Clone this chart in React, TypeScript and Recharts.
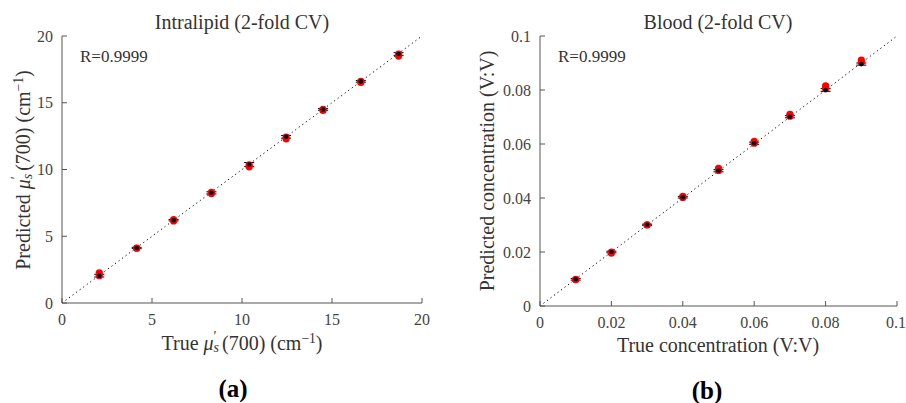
import * as React from "react";
import {
  ScatterChart,
  Scatter,
  XAxis,
  YAxis,
  ReferenceLine,
  ErrorBar,
} from "recharts";

// Panel (a): Intralipid, reduced scattering at 700 nm (cm^-1)
const lipidTrue = [2.07, 4.15, 6.2, 8.3, 10.4, 12.45, 14.5, 16.6, 18.7];
const lipidFoldA = [2.25, 4.12, 6.25, 8.2, 10.2, 12.3, 14.42, 16.52, 18.5];
const lipidFoldB = [2.05, 4.1, 6.15, 8.28, 10.35, 12.42, 14.5, 16.6, 18.65];
const lipidMean = [2.05, 4.12, 6.2, 8.25, 10.37, 12.45, 14.5, 16.6, 18.65];
const lipidErr = [0.1, 0.05, 0.05, 0.08, 0.15, 0.1, 0.06, 0.06, 0.1];
const lipidTicks = [0, 5, 10, 15, 20];

// Panel (b): Blood concentration (V:V)
const bloodTrue = [0.01, 0.02, 0.03, 0.04, 0.05, 0.06, 0.07, 0.08, 0.09];
const bloodFoldA = [0.0097, 0.0196, 0.0301, 0.0406, 0.051, 0.061, 0.071, 0.0815, 0.0911];
const bloodFoldB = [0.0099, 0.02, 0.03, 0.0402, 0.0502, 0.0603, 0.0703, 0.0805, 0.0903];
const bloodMean = [0.0099, 0.02, 0.0301, 0.0403, 0.0501, 0.0603, 0.0701, 0.08, 0.0896];
const bloodErr = [0.0003, 0.0003, 0.0002, 0.0003, 0.0004, 0.0004, 0.0004, 0.0005, 0.0004];
const bloodTicks = [0, 0.02, 0.04, 0.06, 0.08, 0.1];

const FONT = '"Liberation Serif", "Times New Roman", serif';
const AXIS = "#555";
const TEXT = "#333";

const toPts = (xs: number[], ys: number[], err?: number[]) =>
  xs.map((x, i) => ({ x, y: ys[i], err: err ? err[i] : 0 }));

const redDot = (p: any) => <circle cx={p.cx} cy={p.cy} r={3.6} fill="#ff0000" />;
const blackDot = (p: any) => <circle cx={p.cx} cy={p.cy} r={2.3} fill="#000" />;

const tickStyle = { fontFamily: FONT, fontSize: 16, fill: "#444" };

function Panel(props: {
  width: number;
  yAxisWidth: number;
  right: number;
  bottom: number;
  max: number;
  ticks: number[];
  xs: number[];
  foldA: number[];
  foldB: number[];
  mean: number[];
  err: number[];
}) {
  const { width, yAxisWidth, right, bottom, max, ticks, xs } = props;
  return (
    <ScatterChart
      width={width}
      height={403}
      margin={{ top: 36, right, bottom: 0, left: 0 }}
      style={{ fontFamily: FONT }}
    >
      <XAxis
        dataKey="x"
        type="number"
        domain={[0, max]}
        ticks={ticks}
        allowDataOverflow
        height={bottom}
        stroke={AXIS}
        tickSize={-5}
        tickMargin={16}
        tick={tickStyle}
        tickFormatter={(v: number) => String(v)}
      />
      <YAxis
        dataKey="y"
        type="number"
        domain={[0, max]}
        ticks={ticks}
        allowDataOverflow
        width={yAxisWidth}
        stroke={AXIS}
        tickSize={-5}
        tickMargin={14}
        tick={tickStyle}
        tickFormatter={(v: number) => String(v)}
      />
      <XAxis
        xAxisId="top"
        orientation="top"
        type="number"
        domain={[0, max]}
        ticks={ticks}
        height={0}
        stroke={AXIS}
        tickSize={-5}
        tick={false}
      />
      <YAxis
        yAxisId="right"
        orientation="right"
        type="number"
        domain={[0, max]}
        ticks={ticks}
        width={0}
        stroke={AXIS}
        tickSize={-5}
        tick={false}
      />
      <ReferenceLine
        segment={[
          { x: 0, y: 0 },
          { x: max, y: max },
        ]}
        stroke="#000"
        strokeWidth={1}
        strokeDasharray="1.2 3.2"
      />
      <Scatter data={toPts(xs, props.foldA)} shape={redDot} isAnimationActive={false} />
      <Scatter data={toPts(xs, props.foldB)} shape={redDot} isAnimationActive={false} />
      <Scatter data={toPts(xs, props.mean, props.err)} shape={blackDot} isAnimationActive={false}>
        <ErrorBar dataKey="err" direction="y" width={5} stroke="#000" strokeWidth={1} />
      </Scatter>
    </ScatterChart>
  );
}

const abs = (left: number, top: number, extra: React.CSSProperties = {}): React.CSSProperties => ({
  position: "absolute",
  left,
  top,
  transform: "translate(-50%, -50%)",
  whiteSpace: "nowrap",
  fontFamily: FONT,
  color: TEXT,
  fontSize: 20,
  lineHeight: 1,
  ...extra,
});

// italic mu with a prime above and subscript s stacked on its right
const MuS = () => (
  <span>
    <i>μ</i>
    <span
      style={{
        position: "relative",
        display: "inline-block",
        width: "0.42em",
        height: "1em",
        verticalAlign: "top",
      }}
    >
      <span style={{ position: "absolute", left: 0, top: "-0.18em", fontSize: "0.7em" }}>′</span>
      <i style={{ position: "absolute", left: 0, top: "0.56em", fontSize: "0.7em" }}>s</i>
    </span>
  </span>
);

const CmInv = () => (
  <span>
    (cm
    <span style={{ fontSize: "0.68em", position: "relative", top: "-0.55em" }}>−1</span>)
  </span>
);

export default function App() {
  return (
    <div
      style={{
        position: "absolute",
        left: 0,
        top: 0,
        width: 906,
        height: 403,
        background: "#fff",
        overflow: "hidden",
      }}
    >
      <div style={{ position: "absolute", left: 0, top: 0 }}>
        <Panel
          width={450}
          yAxisWidth={62}
          right={28}
          bottom={100}
          max={20}
          ticks={lipidTicks}
          xs={lipidTrue}
          foldA={lipidFoldA}
          foldB={lipidFoldB}
          mean={lipidMean}
          err={lipidErr}
        />
      </div>
      <div style={{ position: "absolute", left: 450, top: 0 }}>
        <Panel
          width={456}
          yAxisWidth={90}
          right={9}
          bottom={97}
          max={0.1}
          ticks={bloodTicks}
          xs={bloodTrue}
          foldA={bloodFoldA}
          foldB={bloodFoldB}
          mean={bloodMean}
          err={bloodErr}
        />
      </div>

      <div style={abs(242, 22)}>Intralipid (2-fold CV)</div>
      <div style={abs(718, 22)}>Blood (2-fold CV)</div>

      <div style={abs(80, 56, { transform: "translate(0, -50%)", fontSize: 17 })}>R=0.9999</div>
      <div style={abs(558, 56, { transform: "translate(0, -50%)", fontSize: 17 })}>R=0.9999</div>

      <div style={abs(242, 343)}>
        True <MuS />(700) <CmInv />
      </div>
      <div style={abs(718, 345)}>True concentration (V:V)</div>

      <div style={abs(23, 170, { transform: "translate(-50%, -50%) rotate(-90deg)" })}>
        Predicted <MuS />(700) <CmInv />
      </div>
      <div style={abs(487, 171, { transform: "translate(-50%, -50%) rotate(-90deg)" })}>
        Predicted concentration (V:V)
      </div>

      <div style={abs(233, 388, { fontSize: 25, fontWeight: "bold", color: "#000" })}>(a)</div>
      <div style={abs(707, 390, { fontSize: 25, fontWeight: "bold", color: "#000" })}>(b)</div>
    </div>
  );
}
